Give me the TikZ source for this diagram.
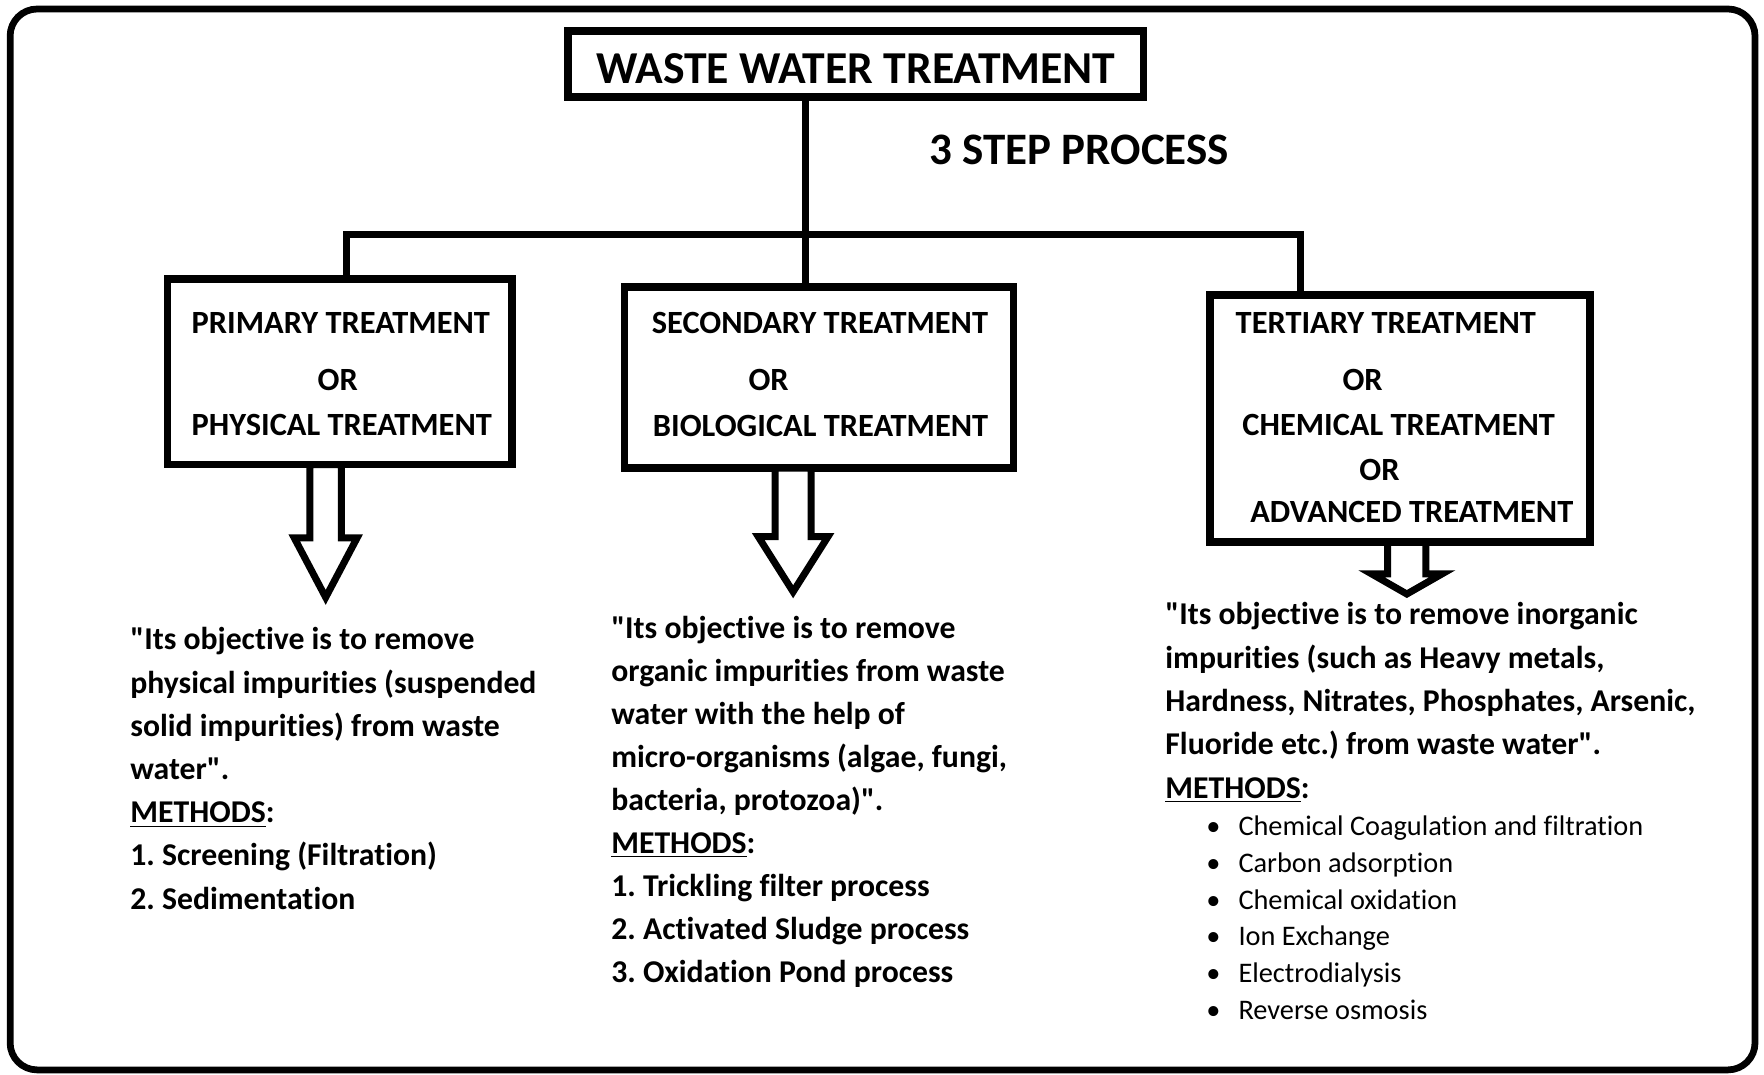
\documentclass[tikz,border=0pt]{standalone}
\usepackage{fontspec}
\setmainfont{Carlito}[Ligatures=NoCommon]
\usetikzlibrary{calc}
\newcommand{\qd}{\textquotedbl}
\begin{document}
\frenchspacing
\begin{tikzpicture}[x=0.5pt,y=-0.5pt,
  boxstyle/.style={draw, line width=3.4pt, inner sep=0pt, outer sep=0pt},
  conn/.style={line width=3.4pt},
  hollow/.style={draw, fill=white, line width=3.1pt, line join=miter},
  boxtxt/.style={inner sep=0pt, anchor=base west, font=\fontsize{14.4}{17}\selectfont\bfseries},
  body/.style={inner sep=0pt, anchor=base west, align=left, font=\fontsize{14.1}{19.2}\selectfont\bfseries},
  bullets/.style={inner sep=0pt, anchor=base west, align=left, font=\fontsize{12.6}{16.3}\selectfont},
]
\useasboundingbox (0,0) rectangle (1568,955);
\draw[line width=3pt, rounded corners=12pt] (9,8) rectangle (1560,951);

% boxes
\node[boxstyle, minimum width=255.75pt, minimum height=29.5pt, text height=17pt,
      font=\fontsize{20.3}{24}\selectfont\bfseries] (title) at (760.75,57) {WASTE WATER TREATMENT};
\node[boxstyle, minimum width=153pt, minimum height=82.5pt] (prim) at (302,330.5) {};
\node[boxstyle, minimum width=173pt, minimum height=80.5pt] (sec) at (728,335.5) {};
\node[boxstyle, minimum width=169pt, minimum height=110pt] (ter) at (1244.5,372) {};

\node[inner sep=0pt, anchor=base west, font=\fontsize{20}{24}\selectfont\bfseries] (step) at (826,146) {3 STEP PROCESS};

% connectors
\coordinate (junc) at (716,208.5);
\coordinate (barL) at (308,208.5);
\coordinate (barR) at (1156,208.5);
\draw[conn] (title.south -| junc) -- (sec.north -| junc);
\draw[conn, line cap=round] (prim.north -| barL) -- (barL) -- (barR) -- (ter.north -| barR);

% box texts
\node[boxtxt] (p1) at (170,296.5) {PRIMARY TREATMENT};
\node[boxtxt] (p2) at (282,347) {OR};
\node[boxtxt] (p3) at (170,387.5) {PHYSICAL TREATMENT};

\node[boxtxt] (s1) at (579,296.5) {SECONDARY TREATMENT};
\node[boxtxt] (s2) at (665,347) {OR};
\node[boxtxt] (s3) at (580,388) {BIOLOGICAL TREATMENT};

\node[boxtxt] (t1) at (1098,296) {TERTIARY TREATMENT};
\node[boxtxt] (t2) at (1193,347) {OR};
\node[boxtxt] (t3) at (1104,387.5) {CHEMICAL TREATMENT};
\node[boxtxt] (t4) at (1208,427) {OR};
\node[boxtxt] (t5) at (1111,464) {ADVANCED TREATMENT};

% hollow arrows
\coordinate (pa) at (289.5,0);
\coordinate (sa) at (705,0);
\coordinate (ta) at (1250.5,0);
\draw[hollow] ($(pa |- prim.south)+(-14,0)$) -- ++(0,65) -- ++(-14,0) -- ++(28,53) -- ++(28,-53) -- ++(-14,0) -- ++(0,-65) -- cycle;
\draw[hollow] ($(sa |- sec.south)+(-16,0)$) -- ++(0,61) -- ++(-15,0) -- ++(31,49) -- ++(31,-49) -- ++(-15,0) -- ++(0,-61) -- cycle;
\draw[hollow] ($(ta |- ter.south)+(-17,0)$) -- ++(0,28) -- ++(-14.5,0) -- ++(31.5,18) -- ++(31.5,-18) -- ++(-14.5,0) -- ++(0,-28) -- cycle;

% descriptions (anchor = baseline of the last line)
\node[body] (ptext) at (115.5,808) {\qd Its objective is to remove\\
physical impurities (suspended\\
solid impurities) from waste\\
water\qd.\\
\underline{METHODS}:\\
1. Screening (Filtration)\\
2. Sedimentation};

\node[body, font=\fontsize{14.1}{19.1}\selectfont\bfseries] (stext) at (543,873) {\qd Its objective is to remove\\
organic impurities from waste\\
water with the help of\\
micro-organisms (algae, fungi,\\
bacteria, protozoa)\qd.\\
\underline{METHODS}:\\
1. Trickling filter process\\
2. Activated Sludge process\\
3. Oxidation Pond process};

\node[body, font=\fontsize{14.1}{19.25}\selectfont\bfseries] (ttext) at (1035.5,709.5) {\qd Its objective is to remove inorganic\\
impurities (such as Heavy metals,\\
Hardness, Nitrates, Phosphates, Arsenic,\\
Fluoride etc.) from waste water\qd.\\
\underline{METHODS}:};

\node[bullets] (tlist) at (1072,906) {\makebox[14.25pt][l]{•}Chemical Coagulation and filtration\\
\makebox[14.25pt][l]{•}Carbon adsorption\\
\makebox[14.25pt][l]{•}Chemical oxidation\\
\makebox[14.25pt][l]{•}Ion Exchange\\
\makebox[14.25pt][l]{•}Electrodialysis\\
\makebox[14.25pt][l]{•}Reverse osmosis};
\end{tikzpicture}
\end{document}
